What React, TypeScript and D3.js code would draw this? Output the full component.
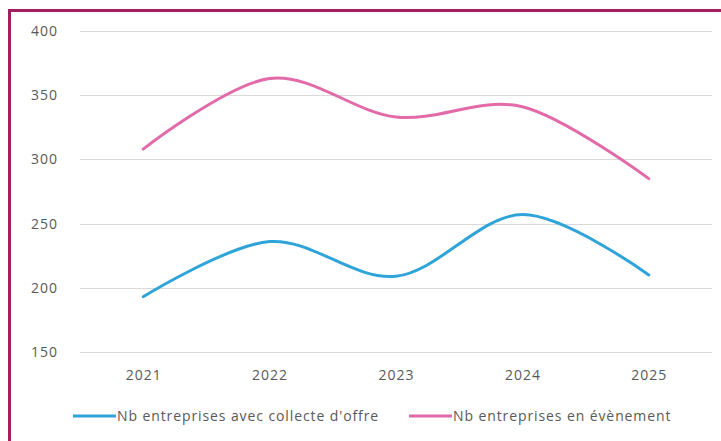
import { useEffect, useRef } from 'react';
import * as d3 from 'd3';

const years = ['2021', '2022', '2023', '2024', '2025'];
const collecteOffre = [193, 236, 209, 257, 210];
const evenement = [308, 363, 333, 341, 285];
const yTicks = [150, 200, 250, 300, 350, 400];

const seriesNames = ["Nb entreprises avec collecte d'offre", 'Nb entreprises en évènement'];
const seriesColors = ['#2fa4d9', '#e26aa8'];

export default function App() {
  const ref = useRef<SVGSVGElement>(null);

  useEffect(() => {
    if (!ref.current) return;
    const width = 721;
    const height = 441;
    const svg = d3.select(ref.current);
    svg.selectAll('*').remove();

    const font = "'Open Sans', 'Noto Sans', sans-serif";
    const left = 80, right = 712, top = 31, bottom = 352;

    const x = d3.scalePoint<string>().domain(years).range([left, right]).padding(0.5);
    const y = d3.scaleLinear().domain([150, 400]).range([bottom, top]);

    svg.append('rect').attr('width', width).attr('height', height).attr('fill', '#fff');

    // frame
    svg.append('rect')
      .attr('x', 9.5).attr('y', 10.5)
      .attr('width', 800).attr('height', 600)
      .attr('fill', 'none')
      .attr('stroke', '#a21f62')
      .attr('stroke-width', 3);

    // gridlines + y labels
    svg.append('g')
      .selectAll('line')
      .data(yTicks)
      .join('line')
      .attr('x1', left).attr('x2', right)
      .attr('y1', d => Math.round(y(d)) + 0.5)
      .attr('y2', d => Math.round(y(d)) + 0.5)
      .attr('stroke', '#d9d9d9')
      .attr('stroke-width', 1);

    const label = (sel: any) => sel
      .style('font-family', font)
      .style('font-size', '14px')
      .style('letter-spacing', '1px')
      .style('fill', '#595959');

    svg.append('g')
      .selectAll('text')
      .data(yTicks)
      .join('text')
      .attr('x', 58)
      .attr('y', d => y(d))
      .attr('dy', '0.35em')
      .attr('text-anchor', 'end')
      .call(label)
      .text(d => d);

    svg.append('g')
      .selectAll('text')
      .data(years)
      .join('text')
      .attr('x', d => x(d)! + 0.5)
      .attr('y', 375)
      .attr('dy', '0.35em')
      .attr('text-anchor', 'middle')
      .call(label)
      .text(d => d);

    const line = d3.line<number>()
      .x((_, i) => x(years[i])!)
      .y(d => y(d))
      .curve(d3.curveCardinal.tension(0));

    [collecteOffre, evenement].forEach((vals, i) => {
      svg.append('path')
        .datum(vals)
        .attr('d', line)
        .attr('fill', 'none')
        .attr('stroke', seriesColors[i])
        .attr('stroke-width', 3)
        .attr('stroke-linecap', 'round');
    });

    // legend
    const legendX = [73, 409];
    seriesNames.forEach((name, i) => {
      const g = svg.append('g').attr('transform', `translate(${legendX[i]},416)`);
      g.append('line')
        .attr('x1', 0).attr('x2', 43)
        .attr('stroke', seriesColors[i])
        .attr('stroke-width', 3);
      g.append('text')
        .attr('x', 44)
        .attr('dy', '0.35em')
        .call(label)
        .style('letter-spacing', '0.9px')
        .text(name);
    });
  }, []);

  return (
    <div style={{ position: 'fixed', left: 0, top: 0 }}>
      <svg ref={ref} width={721} height={441} style={{ display: 'block' }} />
    </div>
  );
}
